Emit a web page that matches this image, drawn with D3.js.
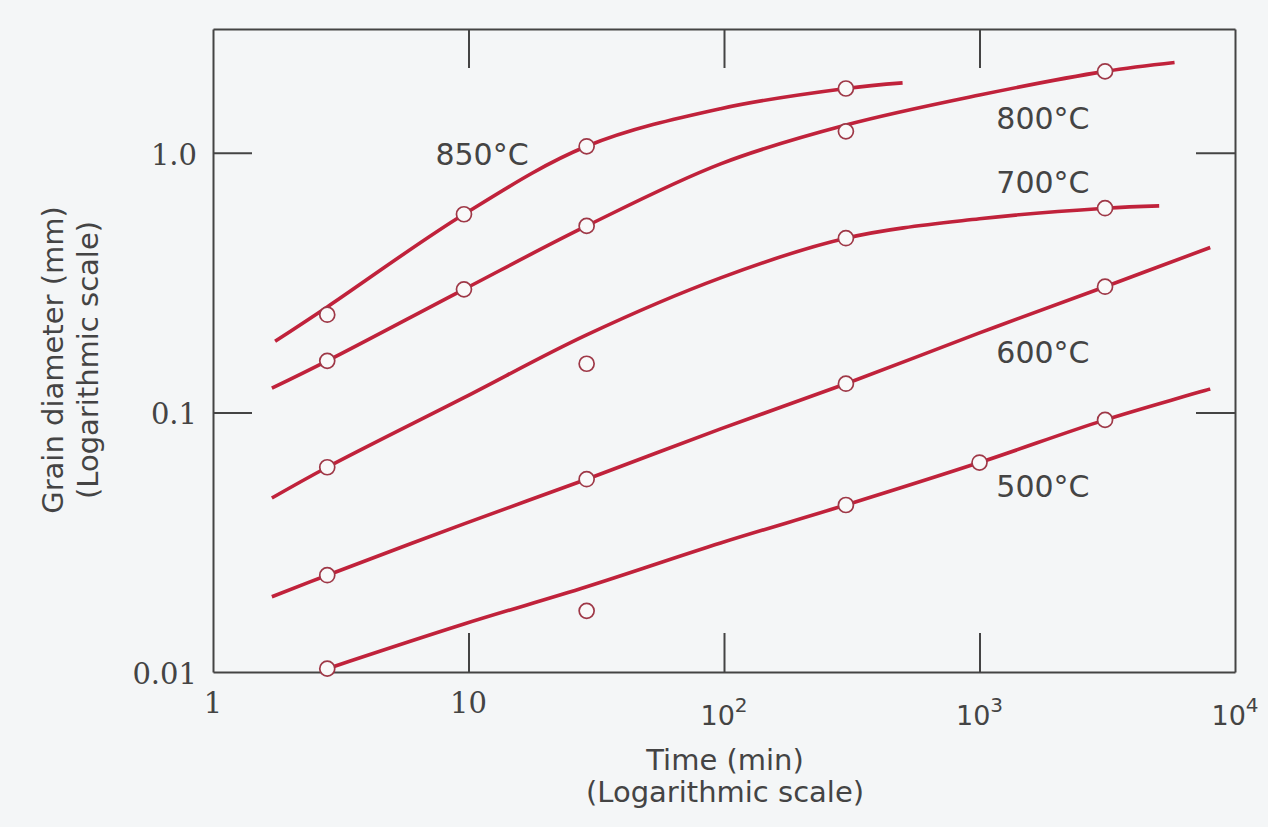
<!DOCTYPE html>
<html>
<head>
<meta charset="utf-8">
<script src="https://cdn.jsdelivr.net/npm/d3@7/dist/d3.min.js"></script>
<style>
  body { margin: 0; background: #f4f6f7; }
  svg { display: block; }
  .curve { fill: none; stroke: #c0223b; stroke-width: 3.6; stroke-linecap: butt; }
  .marker { fill: #f9f9f9; stroke: #9e3847; stroke-width: 1.7; }
  .frame path, .frame line { stroke: #444; stroke-width: 2; }
  .serifTick { font-family: "DejaVu Serif", serif; font-size: 29px; fill: #444; }
  .sansTick { font-family: "DejaVu Sans", sans-serif; font-size: 27px; fill: #444; }
  .tempLabel { font-family: "DejaVu Sans", sans-serif; font-size: 30px; fill: #444; }
  .axisTitle { font-family: "DejaVu Sans", sans-serif; font-size: 29px; fill: #444; }
</style>
</head>
<body>
<div id="chart"></div>
<script>
// ---- data (time in min, grain diameter in mm) ----
var temps = ["850°C", "800°C", "700°C", "600°C", "500°C"];

// smooth curves drawn through the data
var curveTimes850 = [1.75, 2.8, 9.6, 29, 97, 300, 500];
var curveDiam850  = [0.188, 0.255, 0.58, 1.06, 1.48, 1.77, 1.86];
var curveTimes800 = [1.7, 2.8, 9.6, 29, 97, 300, 1000, 3100, 5800];
var curveDiam800  = [0.124, 0.158, 0.298, 0.523, 0.907, 1.28, 1.67, 2.06, 2.23];
var curveTimes700 = [1.7, 2.8, 9.6, 29, 97, 300, 1000, 3100, 5050];
var curveDiam700  = [0.0468, 0.0615, 0.114, 0.199, 0.330, 0.469, 0.557, 0.612, 0.625];
var curveTimes600 = [1.7, 2.8, 9.6, 29, 97, 300, 1000, 3100, 8000];
var curveDiam600  = [0.0195, 0.0236, 0.0372, 0.0553, 0.0864, 0.129, 0.2025, 0.305, 0.432];
var curveTimes500 = [2.8, 9.6, 29, 97, 300, 1000, 3100, 8000];
var curveDiam500  = [0.0103, 0.0153, 0.0213, 0.0314, 0.0440, 0.0641, 0.0936, 0.123];

// measured points (open circles)
var pointTimes850 = [2.8, 9.6, 29, 300];
var pointDiam850  = [0.238, 0.58, 1.06, 1.77];
var pointTimes800 = [2.8, 9.6, 29, 300, 3100];
var pointDiam800  = [0.158, 0.298, 0.523, 1.21, 2.06];
var pointTimes700 = [2.8, 29, 300, 3100];
var pointDiam700  = [0.0615, 0.154, 0.469, 0.612];
var pointTimes600 = [2.8, 29, 300, 3100];
var pointDiam600  = [0.0236, 0.0553, 0.129, 0.305];
var pointTimes500 = [2.8, 29, 300, 1000, 3100];
var pointDiam500  = [0.0103, 0.0172, 0.044, 0.0641, 0.0936];

// where the temperature labels sit (time, diameter at the text baseline)
var labelTimes = [11.3, 1772, 1772, 1772, 1772];
var labelDiams = [0.899, 1.237, 0.701, 0.155, 0.0472];

// ticks
var xTicks = [1, 10, 100, 1000, 10000];
var xTickBase = ["1", "10", "10", "10", "10"];
var xTickExp = ["", "", "2", "3", "4"];
var yTicks = [0.01, 0.1, 1];
var yTickLabels = ["0.01", "0.1", "1.0"];

var curveTimes = [curveTimes850, curveTimes800, curveTimes700, curveTimes600, curveTimes500];
var curveDiams = [curveDiam850, curveDiam800, curveDiam700, curveDiam600, curveDiam500];
var pointTimes = [pointTimes850, pointTimes800, pointTimes700, pointTimes600, pointTimes500];
var pointDiams = [pointDiam850, pointDiam800, pointDiam700, pointDiam600, pointDiam500];

// ---- layout ----
var svgWidth = 1268;
var svgHeight = 827;
var margin = { top: 29, right: 33, bottom: 155, left: 213 };
var width = svgWidth - margin.left - margin.right;
var height = svgHeight - margin.top - margin.bottom;

var svg = d3.select("#chart")
  .append("svg")
  .attr("width", svgWidth)
  .attr("height", svgHeight);

var chartGroup = svg.append("g")
  .attr("transform", `translate(${margin.left}, ${margin.top})`);

var xScale = d3.scaleLog().domain([1, 10000]).range([0, width]);
var yScale = d3.scaleLog().domain([0.01, 3]).range([height, 0]);

// frame with inward ticks on all four sides
var tickLen = 39;
chartGroup.append("g").attr("class", "frame")
  .attr("transform", `translate(0, ${height})`)
  .call(d3.axisBottom(xScale).tickValues([10, 100, 1000]).tickSizeInner(-tickLen).tickSizeOuter(0).tickFormat(""));
chartGroup.append("g").attr("class", "frame")
  .call(d3.axisTop(xScale).tickValues([10, 100, 1000]).tickSizeInner(-tickLen).tickSizeOuter(0).tickFormat(""));
chartGroup.append("g").attr("class", "frame")
  .call(d3.axisLeft(yScale).tickValues([0.1, 1]).tickSizeInner(-tickLen).tickSizeOuter(0).tickFormat(""));
chartGroup.append("g").attr("class", "frame")
  .attr("transform", `translate(${width}, 0)`)
  .call(d3.axisRight(yScale).tickValues([0.1, 1]).tickSizeInner(-tickLen).tickSizeOuter(0).tickFormat(""));

// tick labels
xTicks.forEach(function(t, i) {
  var lab = chartGroup.append("text")
    .attr("x", xScale(t))
    .attr("text-anchor", "middle");
  if (xTickExp[i] === "") {
    lab.attr("class", "serifTick")
      .attr("y", height + 41)
      .text(xTickBase[i]);
  } else {
    lab.attr("class", "sansTick")
      .attr("y", height + 53);
    lab.append("tspan").text(xTickBase[i]);
    lab.append("tspan").attr("dy", -13).attr("font-size", 20).text(xTickExp[i]);
  }
});

chartGroup.selectAll(".yTickLabel")
  .data(yTicks)
  .enter()
  .append("text")
  .attr("class", "serifTick")
  .attr("x", -16)
  .attr("y", d => yScale(d) + 12)
  .attr("text-anchor", "end")
  .text((d, i) => yTickLabels[i]);

// curves
var line = d3.line()
  .x(d => xScale(d[0]))
  .y(d => yScale(d[1]))
  .curve(d3.curveCatmullRom.alpha(0.5));

temps.forEach(function(name, i) {
  var pts = curveTimes[i].map((t, j) => [t, curveDiams[i][j]]);
  chartGroup.append("path")
    .datum(pts)
    .attr("class", "curve")
    .attr("d", line);
});

// open circle markers
temps.forEach(function(name, i) {
  var pts = pointTimes[i].map((t, j) => [t, pointDiams[i][j]]);
  chartGroup.selectAll(".m" + i)
    .data(pts)
    .enter()
    .append("circle")
    .attr("class", "marker m" + i)
    .attr("cx", d => xScale(d[0]))
    .attr("cy", d => yScale(d[1]))
    .attr("r", 7.5);
});

// temperature labels
chartGroup.selectAll(".tempLabel")
  .data(temps)
  .enter()
  .append("text")
  .attr("class", "tempLabel")
  .attr("x", (d, i) => xScale(labelTimes[i]))
  .attr("y", (d, i) => yScale(labelDiams[i]))
  .attr("text-anchor", "middle")
  .text(d => d);

// axis titles
var xTitle = chartGroup.append("text")
  .attr("class", "axisTitle")
  .attr("text-anchor", "middle")
  .attr("transform", `translate(${xScale(100) + 1}, ${height + 98})`);
xTitle.append("tspan").attr("x", 0).attr("y", 0).text("Time (min)");
xTitle.append("tspan").attr("x", 0).attr("y", 32).text("(Logarithmic scale)");

var yTitle = chartGroup.append("text")
  .attr("class", "axisTitle")
  .attr("text-anchor", "middle")
  .attr("transform", `translate(${63 - margin.left}, ${360 - margin.top}) rotate(-90)`);
yTitle.append("tspan").attr("x", 0).attr("y", 0).text("Grain diameter (mm)");
yTitle.append("tspan").attr("x", 0).attr("y", 35).text("(Logarithmic scale)");
</script>
</body>
</html>
